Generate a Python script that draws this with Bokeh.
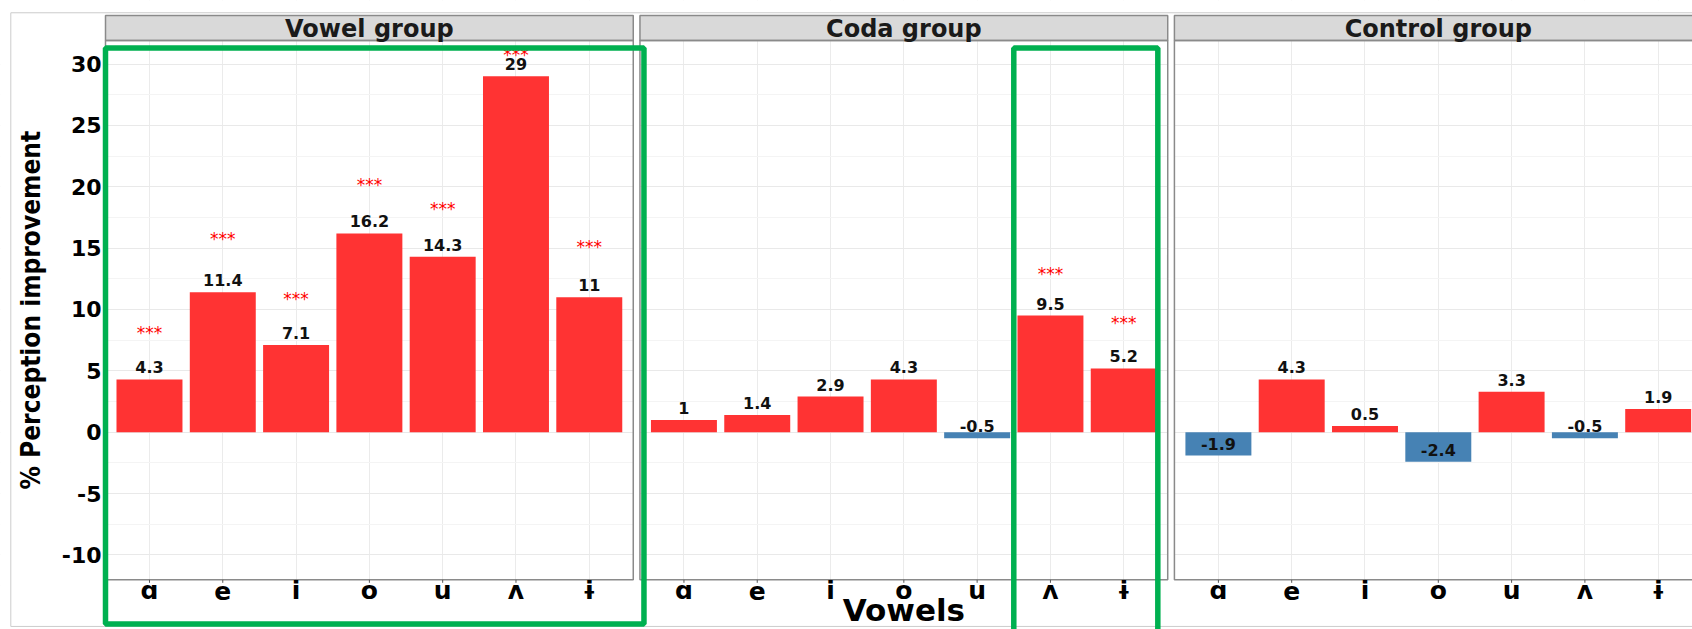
import math
from bokeh.plotting import figure
from bokeh.models import BoxAnnotation, FixedTicker, Range1d, ColumnDataSource, Grid
from bokeh.core.properties import value
from bokeh.embed import file_html
from bokeh.resources import INLINE

# ---------------- data ----------------
groups = ["Vowel group", "Coda group", "Control group"]
vowels = ["ɑ", "e", "i", "o", "u", "ʌ", "ɨ"]
vowel_group = [4.3, 11.4, 7.1, 16.2, 14.3, 29, 11]
coda_group = [1, 1.4, 2.9, 4.3, -0.5, 9.5, 5.2]
control_group = [-1.9, 4.3, 0.5, -2.4, 3.3, -0.5, 1.9]
values_by_group = [vowel_group, coda_group, control_group]

# significance markers ("***"): group index, vowel index, y position
star_group = [0, 0, 0, 0, 0, 0, 0, 1, 1]
star_vowel = [0, 1, 2, 3, 4, 5, 6, 5, 6]
star_y = [8.2, 15.8, 10.9, 20.2, 18.3, 30.8, 15.2, 12.95, 9.0]

y_ticks = [-10, -5, 0, 5, 10, 15, 20, 25, 30]
y_minor = [-12.5, -7.5, -2.5, 2.5, 7.5, 12.5, 17.5, 22.5, 27.5]

x_title = "Vowels"
y_title = "% Perception improvement"

# ---------------- layout constants ----------------
EXP = 0.6          # discrete axis expansion
PANEL = len(vowels) - 1 + 2 * EXP
GAP = 0.0914
STEP = PANEL + GAP
BAR_W = 0.9
Y0, Y1 = -12.03, 31.92          # panel y limits
STRIP_TOP = 33.96
X_PX, Y_PX = 73.3, 12.271       # pixels per data unit
W, H = 1692, 629
FRAME_L, FRAME_T = 105, 40      # panel offset inside canvas

POS_COL = "#FF3333"
NEG_COL = "#4682B4"
GREEN = "#00B050"
BORDER = "#8A8A8A"


def xpos(g, j):
    return round(j + 1 + g * STEP, 4)


def panel_left(g):
    return 1 - EXP + g * STEP


def panel_right(g):
    return len(vowels) + EXP + g * STEP


x0 = panel_left(0) - FRAME_L / X_PX
y1 = Y1 + FRAME_T / Y_PX
p = figure(width=W, height=H,
           x_range=Range1d(x0, x0 + W / X_PX), y_range=Range1d(y1 - H / Y_PX, y1),
           output_backend="svg", toolbar_location=None,
           x_axis_location=None, y_axis_location=None,
           min_border=0)
p.outline_line_color = None
p.background_fill_color = "white"
p.border_fill_color = "white"
p.grid.visible = False

xt = [xpos(g, j) for g in range(len(groups)) for j in range(len(vowels))]
xl = [vowels[j] for g in range(len(groups)) for j in range(len(vowels))]

# grids
p.add_layout(Grid(dimension=0, ticker=FixedTicker(ticks=xt),
                  grid_line_color="#EBEBEB", grid_line_width=1))
p.add_layout(Grid(dimension=1, ticker=FixedTicker(ticks=y_ticks, minor_ticks=y_minor),
                  grid_line_color="#E9E9E9", grid_line_width=1,
                  minor_grid_line_color="#F4F4F4", minor_grid_line_width=1))

# white covers outside the panels (hide grid lines there)
XA, XB = p.x_range.start, p.x_range.end
YA, YB = p.y_range.start, p.y_range.end
cov_l = [XA, XA, XA] + [panel_right(g) for g in range(len(groups) - 1)]
cov_r = [panel_left(0), XB, XB] + [panel_left(g + 1) for g in range(len(groups) - 1)]
cov_b = [YA, Y1, YA] + [Y0] * (len(groups) - 1)
cov_t = [YB, YB, Y0] + [Y1] * (len(groups) - 1)
p.quad(left=cov_l, right=cov_r, bottom=cov_b, top=cov_t,
       fill_color="white", line_color=None)

# strips and panel borders
pl = [panel_left(g) for g in range(len(groups))]
pr = [panel_right(g) for g in range(len(groups))]
p.quad(left=pl, right=pr, bottom=[Y1] * 3, top=[STRIP_TOP] * 3,
       fill_color="#D9D9D9", line_color=BORDER, line_width=1.5)
p.quad(left=pl, right=pr, bottom=[Y0] * 3, top=[Y1] * 3,
       fill_color=None, line_color=BORDER, line_width=1.5)
p.text(x=[(a + b) / 2 for a, b in zip(pl, pr)], y=[(Y1 + STRIP_TOP) / 2] * 3,
       text=groups, text_align="center", text_baseline="middle", y_offset=1,
       text_font=value("DejaVu Sans"), text_font_style="bold",
       text_font_size="24px", text_color="#1A1A1A")

# bars
bx, btop, bcol, lab = [], [], [], []
for g, vals in enumerate(values_by_group):
    for j, v in enumerate(vals):
        bx.append(xpos(g, j))
        btop.append(v)
        bcol.append(POS_COL if v >= 0 else NEG_COL)
        lab.append(f"{v:g}")
src = ColumnDataSource(dict(x=bx, top=btop, color=bcol, label=lab))
p.vbar(x="x", top="top", bottom=0, width=BAR_W, fill_color="color",
       line_color=None, source=src)
p.text(x="x", y="top", text="label", source=src, text_align="center",
       text_baseline="middle", y_offset=-12, text_font=value("DejaVu Sans"),
       text_font_style="bold", text_font_size="16px", text_color="#111111")

# stars
ssrc = ColumnDataSource(dict(x=[xpos(g, j) for g, j in zip(star_group, star_vowel)],
                             y=star_y, t=["***"] * len(star_y)))
p.text(x="x", y="y", text="t", source=ssrc, text_align="center",
       text_baseline="middle", y_offset=1, text_font=value("DejaVu Sans"),
       text_font_size="17px", text_color="#FF0000")

# x axis: ticks + labels
p.ray(x=xt, y=[Y0] * len(xt), length=3, angle=-math.pi / 2, length_units="screen",
      line_color="#555555", line_width=1)
p.text(x=xt, y=[Y0] * len(xt), text=xl, text_align="center", text_baseline="middle",
       y_offset=11, text_font=value("DejaVu Sans"), text_font_style="bold",
       text_font_size="25px", text_color="#000000")

# y axis labels
p.text(x=[panel_left(0)] * len(y_ticks), y=y_ticks, text=[f"{t:g}" for t in y_ticks],
       text_align="right", text_baseline="middle", x_offset=-4,
       text_font=value("DejaVu Sans"), text_font_style="bold",
       text_font_size="22px", text_color="#000000")

# axis titles
p.text(x=[(panel_left(0) + panel_right(2)) / 2], y=[Y0], text=[x_title],
       text_align="center", text_baseline="middle", y_offset=30,
       text_font=value("DejaVu Sans"), text_font_style="bold",
       text_font_size="31px", text_color="#000000")
p.text(x=[panel_left(0)], y=[(Y0 + Y1) / 2], text=[y_title], angle=math.pi / 2,
       text_align="center", text_baseline="middle", x_offset=-75,
       text_font=value("DejaVu Sans Condensed"), text_font_style="bold",
       text_font_size="26px", text_color="#000000")

# outer light frame
p.add_layout(BoxAnnotation(left=panel_left(0) - 94.7 / X_PX, right=30,
                           bottom=-15.83, top=34.18,
                           fill_alpha=0, line_color="#CCCCCC", line_alpha=1,
                           line_width=1))

# green highlight boxes
green_left = [panel_left(0), xpos(1, 5) - 0.5]
green_right = [panel_right(0) + 0.146, xpos(1, 6) + 0.465]
green_bottom = [-15.63, -17.5]
for l, r, b in zip(green_left, green_right, green_bottom):
    p.add_layout(BoxAnnotation(left=l, right=r, bottom=b, top=31.3,
                               fill_alpha=0, line_color=GREEN, line_alpha=1,
                               line_width=5.5))

open("out.html", "w").write(file_html(p, INLINE))
